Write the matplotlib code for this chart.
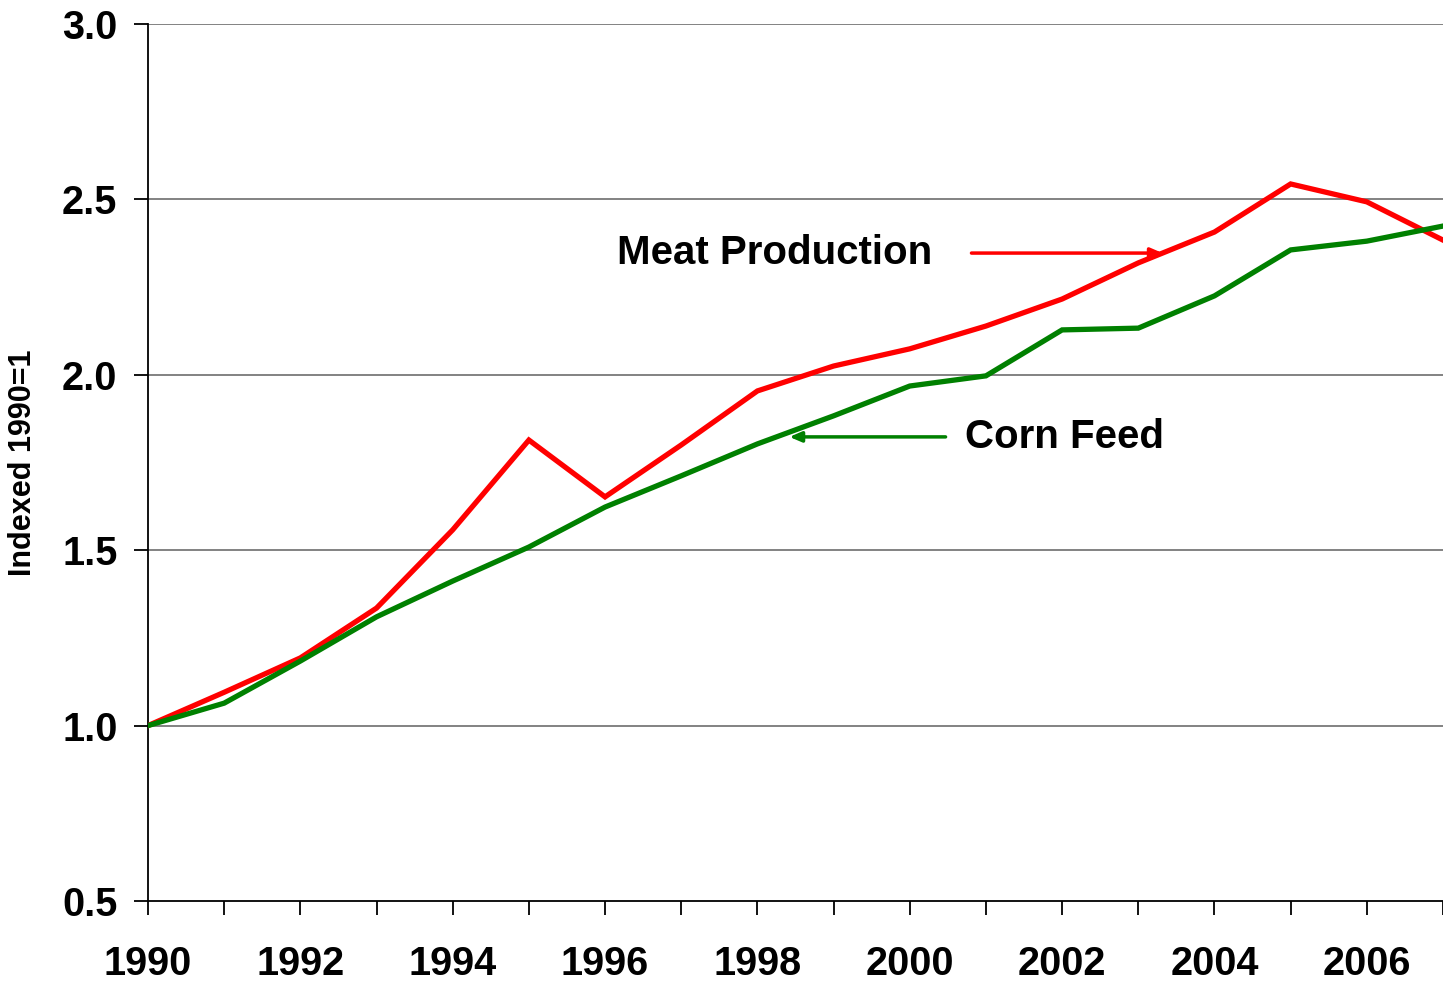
import matplotlib
matplotlib.use("Agg")
import matplotlib.pyplot as plt

years = list(range(1990, 2008))
meat = [1.00, 1.095, 1.193, 1.335, 1.558, 1.814, 1.652, 1.80, 1.954, 2.025,
        2.074, 2.139, 2.216, 2.319, 2.407, 2.544, 2.493, 2.384]
corn = [1.00, 1.064, 1.184, 1.31, 1.412, 1.509, 1.623, 1.712, 1.803, 1.883,
        1.968, 1.997, 2.128, 2.133, 2.225, 2.356, 2.381, 2.424]
yticks = [0.5, 1.0, 1.5, 2.0, 2.5, 3.0]

plt.rcParams["font.family"] = ["Liberation Sans", "DejaVu Sans"]
plt.rcParams["font.weight"] = "bold"

fig = plt.figure(figsize=(14.43, 9.81), dpi=100)
ax = fig.add_axes([148 / 1443, 1 - 901 / 981, 1 - 148 / 1443, (901 - 24) / 981])

for y in yticks[1:]:
    ax.axhline(y, color="#787878", lw=1.3, zorder=1)

ax.plot(years, meat, color="#ff0000", lw=3.8, zorder=3, solid_joinstyle="miter")
ax.plot(years, corn, color="#008000", lw=3.8, zorder=3, solid_joinstyle="miter")

ax.set_xlim(1990, 2007)
ax.set_ylim(0.5, 3.0)
ax.set_xticks(years)
ax.set_xticklabels([str(y) if y % 2 == 0 else "" for y in years])
ax.set_yticks(yticks)
ax.set_yticklabels([f"{v:.1f}" for v in yticks])
ax.tick_params(axis="both", direction="out", length=10, width=1.3, color="black",
               labelsize=28.5, pad=12)
ax.tick_params(axis="x", pad=22)
for lab in ax.get_xticklabels() + ax.get_yticklabels():
    lab.set_fontweight("bold")

for s in ["top", "right"]:
    ax.spines[s].set_visible(False)
for s in ["left", "bottom"]:
    ax.spines[s].set_linewidth(1.3)
    ax.spines[s].set_color("black")

ax.set_ylabel("Indexed 1990=1", fontsize=22, fontweight="bold")
ax.yaxis.set_label_coords(-0.085, 0.5)

# annotations
ax.annotate("", xy=(2003.32, 2.347), xytext=(2000.81, 2.347),
            arrowprops=dict(arrowstyle="-|>,head_length=0.7,head_width=0.3",
                            color="#ff0000", lw=2.5, shrinkA=0, shrinkB=0), zorder=4)
ax.text(2000.29, 2.347, "Meat Production", fontsize=29, fontweight="bold",
        ha="right", va="center")
ax.annotate("", xy=(1998.42, 1.823), xytext=(2000.47, 1.823),
            arrowprops=dict(arrowstyle="-|>,head_length=0.7,head_width=0.3",
                            color="#008000", lw=2.5, shrinkA=0, shrinkB=0), zorder=4)
ax.text(2000.73, 1.823, "Corn Feed", fontsize=29, fontweight="bold",
        ha="left", va="center")

fig.savefig("out.png", dpi=100)
